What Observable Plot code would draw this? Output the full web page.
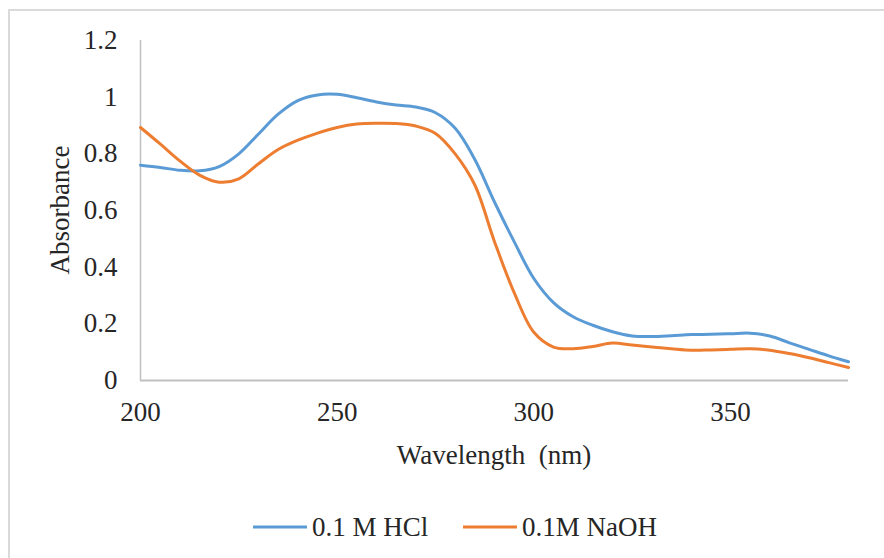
<!DOCTYPE html>
<html>
<head>
<meta charset="utf-8">
<script src="https://cdn.jsdelivr.net/npm/d3@7"></script>
<script src="https://cdn.jsdelivr.net/npm/@observablehq/plot@0.6"></script>
<style>
  html, body { margin: 0; padding: 0; background: #fff; width: 884px; height: 558px; overflow: hidden; }
  body { position: relative; font-family: "Liberation Serif", "Times New Roman", serif; color: #262626; }
  #frame { position: absolute; left: 8px; top: 9px; width: 900px; height: 600px; border: 2px solid #dadada; box-sizing: border-box; }
  #chart { position: absolute; left: 0; top: 0; }
  .ylab { position: absolute; left: 60px; top: 210px; transform: translate(-50%, -50%) rotate(-90deg); font-size: 27px; white-space: nowrap; }
  .xlab { position: absolute; left: 494px; top: 455px; transform: translate(-50%, -50%); font-size: 27px; white-space: nowrap; }
  .legend { position: absolute; top: 527px; transform: translateY(-50%); font-size: 27px; white-space: nowrap; display: flex; align-items: center; }
  .legend .sw { display: inline-block; width: 54px; height: 3px; margin-right: 5px; }
</style>
</head>
<body>
<div id="frame"></div>
<div id="chart"></div>
<div class="ylab">Absorbance</div>
<div class="xlab">Wavelength&nbsp; (nm)</div>
<div id="legend"></div>
<script>
const wavelengths = [200,205,210,215,220,225,230,235,240,245,250,255,260,265,270,275,280,285,290,295,300,305,310,315,320,325,330,335,340,345,350,355,360,365,370,375,380];
const hcl = [0.760,0.752,0.742,0.740,0.755,0.800,0.870,0.940,0.988,1.008,1.010,0.998,0.983,0.972,0.965,0.945,0.890,0.780,0.630,0.490,0.360,0.275,0.225,0.195,0.172,0.157,0.155,0.158,0.162,0.163,0.165,0.167,0.157,0.133,0.110,0.087,0.066];
const naoh = [0.893,0.835,0.775,0.725,0.700,0.712,0.765,0.815,0.848,0.873,0.893,0.905,0.908,0.907,0.898,0.872,0.800,0.690,0.490,0.310,0.170,0.118,0.112,0.120,0.132,0.125,0.118,0.112,0.107,0.108,0.110,0.112,0.107,0.095,0.080,0.063,0.046];
const seriesNames = ["0.1 M HCl", "0.1M NaOH"];
const seriesColors = ["#5b9bd5", "#ed7d31"];
const xTicks = [200, 250, 300, 350];
const yTicks = [0, 0.2, 0.4, 0.6, 0.8, 1, 1.2];

const rows = [];
wavelengths.forEach((w, i) => {
  rows.push({w, a: hcl[i], s: seriesNames[0]});
  rows.push({w, a: naoh[i], s: seriesNames[1]});
});

const chart = Plot.plot({
  width: 884,
  height: 480,
  marginLeft: 140,
  marginRight: 36,
  marginTop: 40,
  marginBottom: 100,
  style: { fontFamily: "Liberation Serif, Times New Roman, serif", fontSize: "27px", color: "#262626", background: "transparent" },
  x: { domain: [200, 380], ticks: xTicks, tickSize: 0, tickPadding: 21, label: null, tickFormat: d => String(d) },
  y: { domain: [0, 1.2], ticks: yTicks, tickSize: 0, tickPadding: 23, label: null, tickFormat: d => String(d) },
  color: { domain: seriesNames, range: seriesColors },
  marks: [
    Plot.ruleX([200], { stroke: "#c0c0c0", strokeWidth: 1.5, y1: 0, y2: 1.2 }),
    Plot.ruleY([0], { stroke: "#c0c0c0", strokeWidth: 2 }),
    Plot.line(rows, { x: "w", y: "a", z: "s", stroke: "s", strokeWidth: 3, curve: "catmull-rom" })
  ]
});
document.getElementById("chart").appendChild(chart);

const legendPos = [253, 463];
const legend = document.getElementById("legend");
seriesNames.forEach((name, i) => {
  const d = document.createElement("div");
  d.className = "legend";
  d.style.left = legendPos[i] + "px";
  d.innerHTML = `<span class="sw" style="background:${seriesColors[i]}"></span><span>${name}</span>`;
  legend.appendChild(d);
});
</script>
</body>
</html>
